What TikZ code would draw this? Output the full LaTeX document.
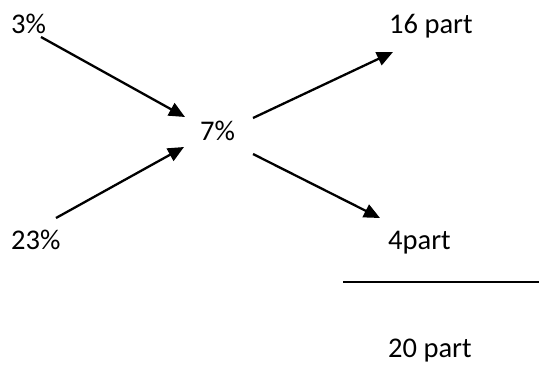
\documentclass[tikz,border=0pt]{standalone}
\usepackage{fontspec}
\setmainfont{Carlito}
\usetikzlibrary{arrows.meta}
\begin{document}
\begin{tikzpicture}[x=1pt,y=-1pt,
  lbl/.style={anchor=base west,inner sep=0pt,font=\fontsize{28.5}{34}\selectfont},
  arr/.style={line width=2.3pt,-{Triangle[length=16pt,width=14pt]}},
  bar/.style={line width=1.5pt}]
\useasboundingbox (0,0) rectangle (539,365);
\node[lbl] (n3) at (11,33) {3\%};
\node[lbl] (n16) at (389,33) {16 part};
\node[lbl] (n7) at (200,140) {7\%};
\node[lbl] (n23) at (11,249) {23\%};
\node[lbl] (n4) at (388,249) {4part};
\node[lbl] (n20) at (388,357) {20 part};
\draw[arr] ([shift={(30,4)}]n3.base west) -- ([shift={(-15,-23)}]n7.base west);
\draw[arr] ([shift={(45,-31)}]n23.base west) -- ([shift={(-16,7)}]n7.base west);
\draw[arr] ([shift={(53,-22)}]n7.base west) -- ([shift={(4,19)}]n16.base west);
\draw[arr] ([shift={(53,14)}]n7.base west) -- ([shift={(-8,-31)}]n4.base west);
\draw[bar] ([shift={(-45,33)}]n4.base west) -- ([shift={(151,33)}]n4.base west);
\end{tikzpicture}
\end{document}
